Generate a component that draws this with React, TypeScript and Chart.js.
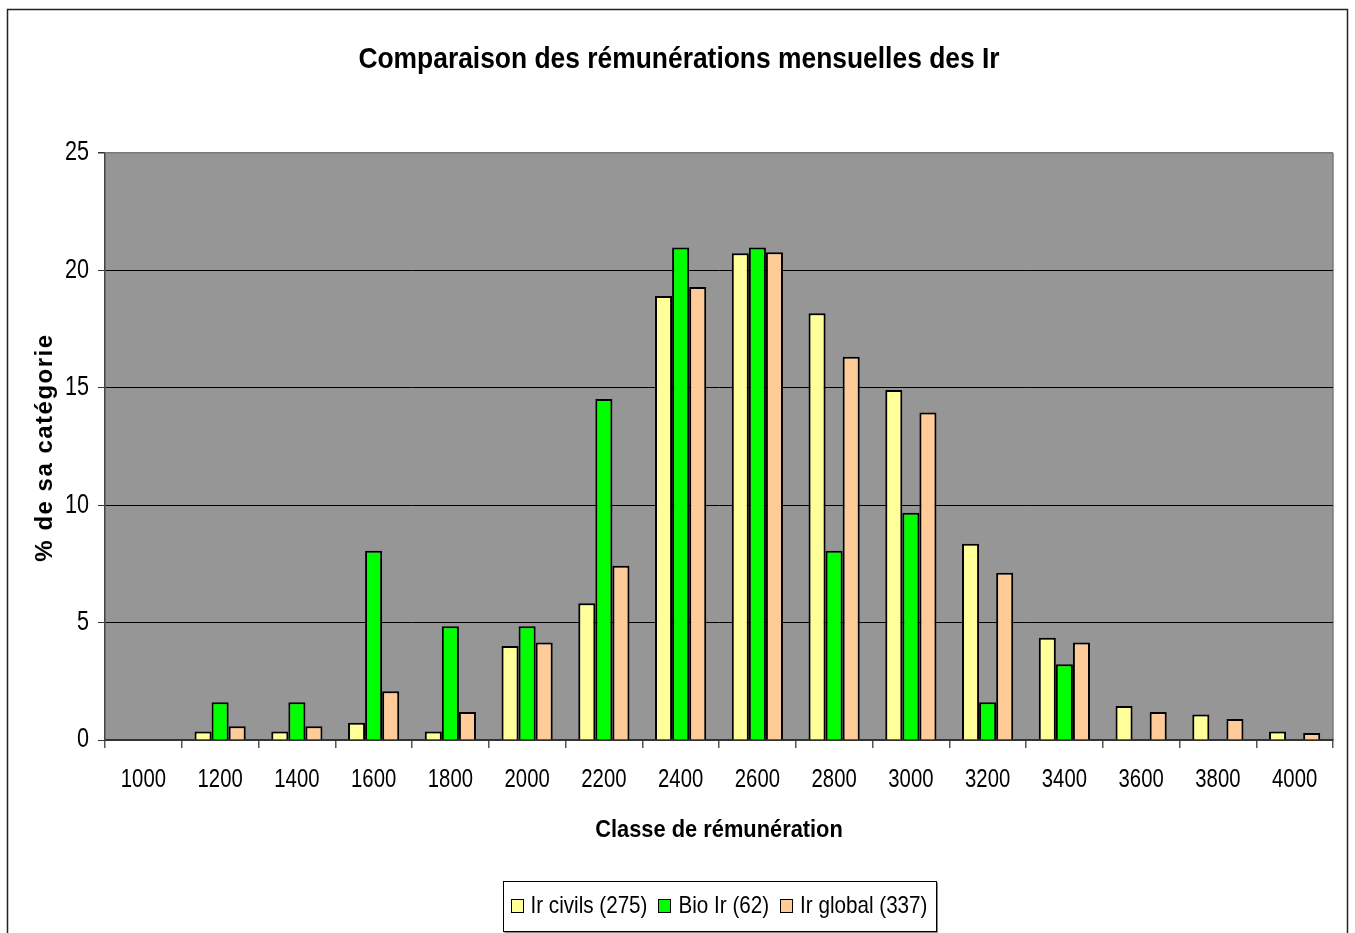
import React, { useEffect, useRef } from 'react';
import { Chart, registerables } from 'chart.js';

Chart.register(...registerables);

const chartTitle = 'Comparaison des rémunérations mensuelles des Ir';
const xAxisTitle = 'Classe de rémunération';
const yAxisTitle = '% de sa catégorie';

const categories = ['1000', '1200', '1400', '1600', '1800', '2000', '2200', '2400', '2600', '2800', '3000', '3200', '3400', '3600', '3800', '4000'];
const civilsValues = [0, 0.36, 0.36, 0.73, 0.36, 4.0, 5.82, 18.91, 20.73, 18.18, 14.91, 8.36, 4.36, 1.45, 1.09, 0.36];
const bioValues = [0, 1.61, 1.61, 8.06, 4.84, 4.84, 14.52, 20.97, 20.97, 8.06, 9.68, 1.61, 3.23, 0, 0, 0];
const globalValues = [0, 0.59, 0.59, 2.08, 1.19, 4.15, 7.42, 19.29, 20.77, 16.32, 13.95, 7.12, 4.15, 1.19, 0.89, 0.3];
const seriesLabels = ['Ir civils (275)', 'Bio Ir (62)', 'Ir global (337)'];
const seriesColors = ['#FFFF99', '#00FF00', '#FFCC99'];
const yTicks = [0, 5, 10, 15, 20, 25];

const FONT = "'Liberation Sans', Arial, sans-serif";

function drawText(ctx: any, text: string, x: number, y: number, size: number, weight: string, scaleX: number, align: string) {
  ctx.save();
  ctx.font = `${weight} ${size}px ${FONT}`;
  ctx.textAlign = align;
  ctx.textBaseline = 'middle';
  ctx.fillStyle = '#000';
  ctx.translate(x, y);
  ctx.scale(scaleX, 1);
  ctx.fillText(text, 0, 0);
  ctx.restore();
}

const decorPlugin = {
  id: 'decor',
  beforeDraw(chart: any) {
    const { ctx, chartArea } = chart;
    ctx.save();
    ctx.fillStyle = '#ffffff';
    ctx.fillRect(0, 0, chart.width, chart.height);
    ctx.fillStyle = '#969696';
    ctx.fillRect(chartArea.left, chartArea.top, chartArea.right - chartArea.left, chartArea.bottom - chartArea.top);
    ctx.strokeStyle = '#7a7a7a';
    ctx.lineWidth = 1.5;
    ctx.beginPath();
    ctx.moveTo(chartArea.right, chartArea.top);
    ctx.lineTo(chartArea.right, chartArea.bottom);
    ctx.stroke();
    ctx.restore();
  },
  afterDraw(chart: any) {
    const { ctx, chartArea } = chart;
    const xScale = chart.scales.x;
    const yScale = chart.scales.y;
    ctx.save();
    // outer frame
    ctx.strokeStyle = '#222';
    ctx.lineWidth = 1.5;
    ctx.strokeRect(7.5, 9.5, 1340, 940);

    // main title
    drawText(ctx, chartTitle, 679, 60, 30, 'bold', 0.88, 'center');

    // x tick labels
    xScale.ticks.forEach((t: any, i: number) => {
      const label = chart.data.labels[t.value ?? i];
      drawText(ctx, String(label), xScale.getPixelForTick(i), 780, 26, 'normal', 0.78, 'center');
    });
    // y tick labels
    yScale.ticks.forEach((t: any) => {
      drawText(ctx, String(t.value), 89, yScale.getPixelForValue(t.value), 27, 'normal', 0.8, 'right');
    });

    // x axis title
    drawText(ctx, xAxisTitle, (chartArea.left + chartArea.right) / 2, 830, 24, 'bold', 0.91, 'center');

    // y axis title
    ctx.save();
    ctx.translate(45, (chartArea.top + chartArea.bottom) / 2 + 1);
    ctx.rotate(-Math.PI / 2);
    ctx.font = `bold 24px ${FONT}`;
    try { (ctx as any).letterSpacing = '1.5px'; } catch (e) {}
    ctx.textAlign = 'center';
    ctx.textBaseline = 'middle';
    ctx.fillStyle = '#000';
    ctx.fillText(yAxisTitle, 0, 0);
    ctx.restore();

    // legend
    const legendSize = 24;
    const legendScale = 0.86;
    ctx.font = `${legendSize}px ${FONT}`;
    const marker = 12;
    const gapMarker = 8;
    const gapItem = 11;
    const datasets = chart.data.datasets;
    const widths = datasets.map((d: any) => ctx.measureText(d.label).width * legendScale);
    let total = 0;
    widths.forEach((w: number, i: number) => {
      total += marker + gapMarker + w + (i < widths.length - 1 ? gapItem : 0);
    });
    const padL = 7, padR = 9;
    const cx = (chartArea.left + chartArea.right) / 2;
    const boxW = Math.round(total + padL + padR);
    const boxX = Math.round(cx - boxW / 2) + 0.5;
    const boxY = 881.5;
    const boxH = 50;
    ctx.fillStyle = '#fff';
    ctx.fillRect(boxX, boxY, boxW, boxH);
    ctx.strokeStyle = '#000';
    ctx.lineWidth = 1;
    ctx.strokeRect(boxX, boxY, boxW, boxH);
    ctx.strokeStyle = '#888';
    ctx.beginPath();
    ctx.moveTo(boxX + 1, boxY + boxH + 1);
    ctx.lineTo(boxX + boxW + 1, boxY + boxH + 1);
    ctx.lineTo(boxX + boxW + 1, boxY + 1);
    ctx.stroke();
    let x = boxX + padL;
    const cy = 906;
    datasets.forEach((d: any, i: number) => {
      ctx.fillStyle = d.backgroundColor;
      ctx.fillRect(Math.round(x) + 0.5, cy - 6.5, marker, marker + 1);
      ctx.strokeStyle = '#000';
      ctx.lineWidth = 1;
      ctx.strokeRect(Math.round(x) + 0.5, cy - 6.5, marker, marker + 1);
      x += marker + gapMarker;
      drawText(ctx, d.label, x, cy, legendSize, 'normal', legendScale, 'left');
      x += widths[i] + gapItem;
    });
    ctx.restore();
  },
};

export default function App() {
  const ref = useRef<HTMLCanvasElement | null>(null);
  useEffect(() => {
    if (!ref.current) return;
    const values = [civilsValues, bioValues, globalValues];
    const chart = new Chart(ref.current, {
      type: 'bar',
      data: {
        labels: categories,
        datasets: values.map((v, i) => ({
          label: seriesLabels[i],
          data: v,
          backgroundColor: seriesColors[i],
          borderColor: '#000',
          borderWidth: 2,
          borderSkipped: 'bottom',
          barPercentage: 1,
          categoryPercentage: 0.667,
        })),
      },
      options: {
        responsive: false,
        animation: false,
        devicePixelRatio: 1,
        layout: { padding: { top: 153, left: 10, right: 22, bottom: 83 } },
        plugins: {
          legend: { display: false },
          title: { display: false },
          tooltip: { enabled: false },
        },
        scales: {
          x: {
            afterFit: (scale: any) => { scale.height = 110; },
            grid: {
              display: true,
              offset: true,
              drawOnChartArea: false,
              drawTicks: true,
              tickLength: 8,
              color: '#555',
              lineWidth: 1.5,
            },
            border: { display: true, color: '#333', width: 2 },
            ticks: { display: false, autoSkip: false, maxRotation: 0 },
            title: { display: false },
          },
          y: {
            min: 0,
            max: 25,
            afterFit: (scale: any) => { scale.width = 95; },
            afterBuildTicks: (scale: any) => { scale.ticks = yTicks.map((v) => ({ value: v })); },
            grid: {
              color: (c: any) => (c.tick && c.tick.value === 25 ? '#7a7a7a' : '#000'),
              tickColor: '#333',
              lineWidth: (c: any) => (c.tick && c.tick.value === 25 ? 1.5 : 1),
              drawTicks: true,
              tickLength: 7,
            },
            border: { display: true, color: '#444', width: 1.5 },
            ticks: { display: false },
          },
        },
      },
      plugins: [decorPlugin],
    } as any);
    return () => chart.destroy();
  }, []);
  return (
    <div style={{ position: 'fixed', left: 0, top: 0, width: 1355, height: 933 }}>
      <canvas ref={ref} width={1355} height={933} style={{ display: 'block', width: 1355, height: 933 }} />
    </div>
  );
}
